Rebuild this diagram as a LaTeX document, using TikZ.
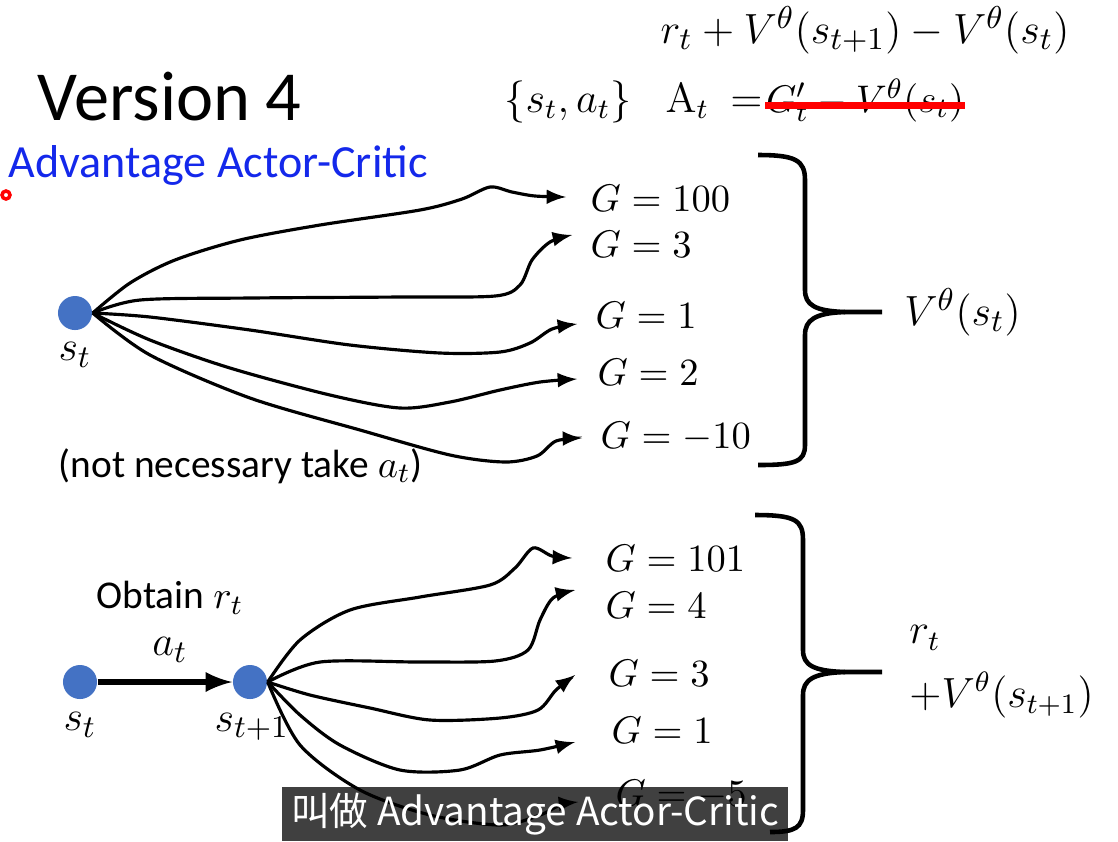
\documentclass[tikz,border=0pt]{standalone}
\usepackage[no-math]{fontspec}
\setmainfont{Carlito}
\newfontfamily\cjk{Noto Sans CJK SC}
\usepackage{tikz}
\usetikzlibrary{arrows, positioning}
\usepackage{xcolor}
\usepackage{amsmath, amssymb}
\definecolor{azul}{RGB}{68,114,196}
\definecolor{azultexto}{RGB}{20,40,235}

\begin{document}
\begin{tikzpicture}[x=0.01cm, y=-0.01cm,
    estado/.style={circle, fill=azul, minimum size=0.34cm, inner sep=0pt},
    ramo/.style={-latex, line width=0.9pt},
    chave/.style={line width=1.3pt},
    rotulo/.style={anchor=west, inner sep=0pt, font=\fontsize{11}{13}\selectfont},
    texto/.style={inner sep=0pt, font=\fontsize{11.2}{13}\selectfont}]
    \useasboundingbox[fill=white] (0,0) rectangle (1118,841);

    % Titulos
    \node[anchor=base west, inner sep=0pt, font=\fontsize{20}{24}\selectfont] (versao) at (37,120) {Version 4};
    \node[anchor=base west, inner sep=0pt, text=azultexto, font=\fontsize{13.1}{15}\selectfont] (nome) at (8,177) {Advantage Actor-Critic};
    \node[circle, draw=red, line width=1pt, minimum size=0.08cm, inner sep=0pt] (laser) at (6,195) {};

    % Formulas
    \node[font=\fontsize{12.5}{15}\selectfont] (delta) at (865,30) {$r_t + V^{\theta}(s_{t+1}) - V^{\theta}(s_t)$};
    \node[anchor=base, inner sep=0pt, font=\fontsize{12}{15}\selectfont] (par) at (568,112) {$\{s_t, a_t\}$};
    \node[anchor=base west, inner sep=0pt, font=\fontsize{12}{15}\selectfont] (adv) at (665,112) {$\mathrm{A}_t\ =$};
    \node[anchor=base west, inner sep=0pt, font=\fontsize{11.2}{15}\selectfont] (gdiff) at ([xshift=0.02cm]adv.base east) {$G'_t - V^{\theta}(s_t)$};
    \draw[red, line width=2pt] ([yshift=-0.05cm]gdiff.west) -- ([yshift=-0.05cm]gdiff.east);

    % Arvore de cima
    \node[estado] (st) at (75,313) {};
    \node[font=\fontsize{12.5}{15}\selectfont] (stlab) at (75,355) {$s_t$};
    \foreach \nome/\x/\y/\g in {g100/590/198/100, g3/590/244/3, g1/595/315/1, g2/597/372/2, gm10/600/437/-10}
        \node[rotulo] (\nome) at (\x,\y) {$G = \g$};
    \coordinate (f1) at (566,197);
    \coordinate (f2) at (572,235);
    \coordinate (f3) at (577,324);
    \coordinate (f4) at (577,379);
    \coordinate (f5) at (582,438);
    \draw[ramo] plot[smooth, tension=0.5] coordinates {(st.east) (130,283) (175,260) (240,240) (320,225) (420,210) (462,199) (490,187) (512,192) (535,196) (f1)};
    \draw[ramo] plot[smooth, tension=0.5] coordinates {(st.east) (140,300) (250,298) (400,297) (495,296) (520,285) (532,260) (550,242) (f2)};
    \draw[ramo] plot[smooth, tension=0.5] coordinates {(st.east) (150,317) (250,330) (350,345) (440,353) (500,352) (530,343) (552,329) (f3)};
    \draw[ramo] plot[smooth, tension=0.5] coordinates {(st.east) (150,340) (230,368) (330,395) (400,408) (450,402) (500,390) (540,382) (f4)};
    \draw[ramo] plot[smooth, tension=0.5] coordinates {(st.east) (150,355) (250,398) (360,430) (450,455) (505,462) (537,456) (556,441) (f5)};
    \node[texto, anchor=base west] (nota) at (58,477) {(not necessary take $a_t$)};

    % Chave de cima
    \draw[chave] (758,155) .. controls (795,155) and (805,160) .. (805,180) -- (805,290)
        .. controls (805,305) and (815,311) .. (845,312) -- (882,312);
    \draw[chave] (845,312) .. controls (815,313) and (805,320) .. (805,335) -- (805,445)
        .. controls (805,462) and (795,465) .. (758,465);
    \node[anchor=west, font=\fontsize{12.3}{15}\selectfont] (vst) at (892,312) {$V^{\theta}(s_t)$};

    % Arvore de baixo
    \node[estado] (sb) at (80,682) {};
    \node[estado] (snx) at (250,682) {};
    \node[font=\fontsize{12.5}{15}\selectfont] (sblab) at (80,725) {$s_t$};
    \node[font=\fontsize{12.5}{15}\selectfont] (snxlab) at (252,727) {$s_{t+1}$};
    \draw[-latex, line width=1.6pt] (sb) -- (snx);
    \node[font=\fontsize{12.5}{15}\selectfont] (at) at (170,650) {$a_t$};
    \node[texto] (obt) at (170,598) {Obtain $r_t$};
    \foreach \nome/\x/\y/\g in {h101/605/558/101, h4/605/605/4, h3/608/673/3, h1/611/730/1, hm5/615/795/-5}
        \node[rotulo] (\nome) at (\x,\y) {$G = \g$};
    \coordinate (k1) at (572,558);
    \coordinate (k2) at (575,590);
    \coordinate (k3) at (575,675);
    \coordinate (k4) at (575,742);
    \coordinate (k5) at (578,802);
    \draw[ramo] plot[smooth, tension=0.5] coordinates {(snx.east) (300,640) (350,610) (420,597) (490,585) (515,568) (533,548) (552,556) (k1)};
    \draw[ramo] plot[smooth, tension=0.5] coordinates {(snx.east) (320,662) (420,662) (495,661) (528,650) (540,620) (553,598) (k2)};
    \draw[ramo] plot[smooth, tension=0.5] coordinates {(snx.east) (310,695) (370,708) (430,720) (500,718) (538,710) (556,690) (k3)};
    \draw[ramo] plot[smooth, tension=0.5] coordinates {(snx.east) (300,715) (340,745) (400,770) (460,770) (500,755) (540,750) (k4)};
    \draw[ramo] plot[smooth, tension=0.5] coordinates {(snx.east) (300,745) (360,790) (430,815) (500,825) (540,815) (560,805) (k5)};

    % Chave de baixo
    \draw[chave] (755,515) .. controls (795,515) and (803,520) .. (803,540) -- (803,650)
        .. controls (803,665) and (813,671) .. (845,672) -- (882,672);
    \draw[chave] (845,672) .. controls (813,673) and (803,680) .. (803,695) -- (803,810)
        .. controls (803,828) and (795,832) .. (770,832);
    \node[anchor=west, font=\fontsize{12}{15}\selectfont] (rt) at (897,638) {$r_t$};
    \node[anchor=west, font=\fontsize{12}{15}\selectfont] (rv) at (897,695) {$+V^{\theta}(s_{t+1})$};

    % Legenda
    \node[fill=black, fill opacity=0.75, text opacity=1, text=white, minimum width=5.05cm, minimum height=0.54cm,
        inner sep=0pt, font=\cjk\fontsize{11}{12}\selectfont] (legenda) at (535,814) {叫做 Advantage Actor-Critic};
\end{tikzpicture}
\end{document}
